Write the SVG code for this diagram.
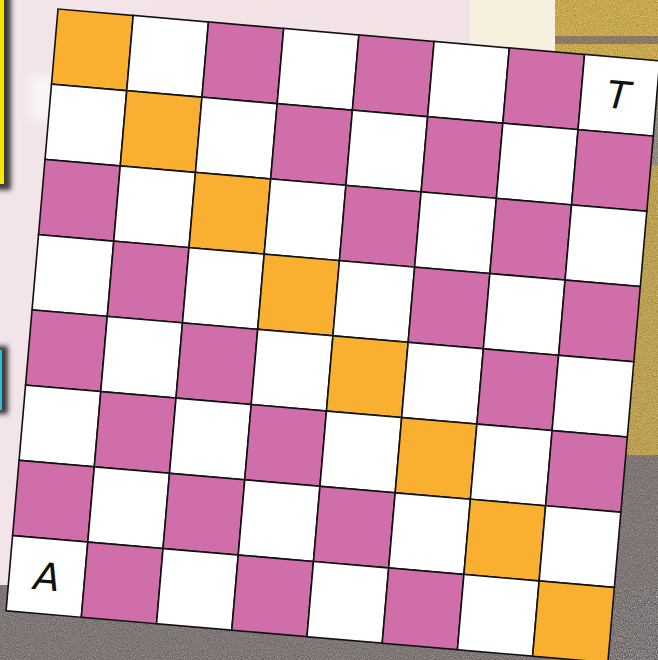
<svg xmlns="http://www.w3.org/2000/svg" width="658" height="660" viewBox="0 0 658 660">
<style>
.cell{stroke:#111;stroke-width:1.6;stroke-linejoin:miter}
.w{fill:#ffffff}
.p{fill:#D06EAA}
.o{fill:#F9AF30}
.lbl{font-family:"DejaVu Sans","Liberation Sans",sans-serif;font-style:italic;font-size:38px;fill:#111;text-anchor:middle}
.noise{filter:url(#grain);opacity:0.3}
</style>
<defs>
<filter id="grain" x="0" y="0" width="100%" height="100%" color-interpolation-filters="sRGB">
<feTurbulence type="fractalNoise" baseFrequency="0.85" numOctaves="2" seed="4" result="n"/>
<feColorMatrix in="n" type="matrix" values="0.6 0.6 0.6 0 -0.4  0.6 0.6 0.6 0 -0.4  0.6 0.6 0.6 0 -0.4  0 0 0 0 1" result="g"/>
<feComposite in="g" in2="SourceGraphic" operator="in"/>
</filter>
<filter id="blur" x="-50%" y="-10%" width="200%" height="120%"><feGaussianBlur stdDeviation="2.5"/></filter>
<filter id="soft" x="-50%" y="-50%" width="200%" height="200%"><feGaussianBlur stdDeviation="6"/></filter>
</defs>
<g id="background">
<rect x="0" y="0" width="658" height="660" fill="#F2E4E8"/>
<rect x="150" y="0" width="330" height="45" fill="#F3E3E6"/>
<rect x="470" y="0" width="90" height="60" fill="#F8F0DF"/>
<rect x="555" y="0" width="103" height="62" fill="#E6BA3C"/>
<rect x="555" y="36" width="103" height="8" fill="#94765A"/>
<rect x="600" y="60" width="58" height="110" fill="#948E7E"/>
<rect x="600" y="165" width="58" height="295" fill="#D6AE40"/>
<rect x="0" y="585" width="658" height="75" fill="#7E7471"/>
<rect x="590" y="455" width="68" height="205" fill="#7E7471"/>
<rect class="noise" x="555" y="0" width="103" height="62" fill="#fff"/>
<rect class="noise" x="600" y="60" width="58" height="600" fill="#fff"/>
<rect class="noise" x="0" y="585" width="658" height="75" fill="#fff"/>
<rect x="30" y="75" width="22" height="45" fill="#FAF6F6" filter="url(#soft)"/>
<rect x="-6" y="-6" width="17" height="196" fill="#3a3a3a" filter="url(#blur)"/>
<rect x="-6" y="-6" width="10" height="190" fill="#F6E900"/>
<rect x="-6" y="346" width="14" height="68" fill="#3a3a3a" filter="url(#blur)"/>
<rect x="-6" y="350" width="8" height="60" fill="#2DBCE0"/>
</g>
<g id="board" transform="translate(58,9) rotate(4.93)">
<g id="row0">
<rect class="cell o" x="0" y="0" width="75.5" height="75.5"/>
<rect class="cell w" x="75.5" y="0" width="75.5" height="75.5"/>
<rect class="cell p" x="151" y="0" width="75.5" height="75.5"/>
<rect class="cell w" x="226.5" y="0" width="75.5" height="75.5"/>
<rect class="cell p" x="302" y="0" width="75.5" height="75.5"/>
<rect class="cell w" x="377.5" y="0" width="75.5" height="75.5"/>
<rect class="cell p" x="453" y="0" width="75.5" height="75.5"/>
<rect class="cell w" x="528.5" y="0" width="75.5" height="75.5"/>
</g>
<g id="row1">
<rect class="cell w" x="0" y="75.5" width="75.5" height="75.5"/>
<rect class="cell o" x="75.5" y="75.5" width="75.5" height="75.5"/>
<rect class="cell w" x="151" y="75.5" width="75.5" height="75.5"/>
<rect class="cell p" x="226.5" y="75.5" width="75.5" height="75.5"/>
<rect class="cell w" x="302" y="75.5" width="75.5" height="75.5"/>
<rect class="cell p" x="377.5" y="75.5" width="75.5" height="75.5"/>
<rect class="cell w" x="453" y="75.5" width="75.5" height="75.5"/>
<rect class="cell p" x="528.5" y="75.5" width="75.5" height="75.5"/>
</g>
<g id="row2">
<rect class="cell p" x="0" y="151" width="75.5" height="75.5"/>
<rect class="cell w" x="75.5" y="151" width="75.5" height="75.5"/>
<rect class="cell o" x="151" y="151" width="75.5" height="75.5"/>
<rect class="cell w" x="226.5" y="151" width="75.5" height="75.5"/>
<rect class="cell p" x="302" y="151" width="75.5" height="75.5"/>
<rect class="cell w" x="377.5" y="151" width="75.5" height="75.5"/>
<rect class="cell p" x="453" y="151" width="75.5" height="75.5"/>
<rect class="cell w" x="528.5" y="151" width="75.5" height="75.5"/>
</g>
<g id="row3">
<rect class="cell w" x="0" y="226.5" width="75.5" height="75.5"/>
<rect class="cell p" x="75.5" y="226.5" width="75.5" height="75.5"/>
<rect class="cell w" x="151" y="226.5" width="75.5" height="75.5"/>
<rect class="cell o" x="226.5" y="226.5" width="75.5" height="75.5"/>
<rect class="cell w" x="302" y="226.5" width="75.5" height="75.5"/>
<rect class="cell p" x="377.5" y="226.5" width="75.5" height="75.5"/>
<rect class="cell w" x="453" y="226.5" width="75.5" height="75.5"/>
<rect class="cell p" x="528.5" y="226.5" width="75.5" height="75.5"/>
</g>
<g id="row4">
<rect class="cell p" x="0" y="302" width="75.5" height="75.5"/>
<rect class="cell w" x="75.5" y="302" width="75.5" height="75.5"/>
<rect class="cell p" x="151" y="302" width="75.5" height="75.5"/>
<rect class="cell w" x="226.5" y="302" width="75.5" height="75.5"/>
<rect class="cell o" x="302" y="302" width="75.5" height="75.5"/>
<rect class="cell w" x="377.5" y="302" width="75.5" height="75.5"/>
<rect class="cell p" x="453" y="302" width="75.5" height="75.5"/>
<rect class="cell w" x="528.5" y="302" width="75.5" height="75.5"/>
</g>
<g id="row5">
<rect class="cell w" x="0" y="377.5" width="75.5" height="75.5"/>
<rect class="cell p" x="75.5" y="377.5" width="75.5" height="75.5"/>
<rect class="cell w" x="151" y="377.5" width="75.5" height="75.5"/>
<rect class="cell p" x="226.5" y="377.5" width="75.5" height="75.5"/>
<rect class="cell w" x="302" y="377.5" width="75.5" height="75.5"/>
<rect class="cell o" x="377.5" y="377.5" width="75.5" height="75.5"/>
<rect class="cell w" x="453" y="377.5" width="75.5" height="75.5"/>
<rect class="cell p" x="528.5" y="377.5" width="75.5" height="75.5"/>
</g>
<g id="row6">
<rect class="cell p" x="0" y="453" width="75.5" height="75.5"/>
<rect class="cell w" x="75.5" y="453" width="75.5" height="75.5"/>
<rect class="cell p" x="151" y="453" width="75.5" height="75.5"/>
<rect class="cell w" x="226.5" y="453" width="75.5" height="75.5"/>
<rect class="cell p" x="302" y="453" width="75.5" height="75.5"/>
<rect class="cell w" x="377.5" y="453" width="75.5" height="75.5"/>
<rect class="cell o" x="453" y="453" width="75.5" height="75.5"/>
<rect class="cell w" x="528.5" y="453" width="75.5" height="75.5"/>
</g>
<g id="row7">
<rect class="cell w" x="0" y="528.5" width="75.5" height="75.5"/>
<rect class="cell p" x="75.5" y="528.5" width="75.5" height="75.5"/>
<rect class="cell w" x="151" y="528.5" width="75.5" height="75.5"/>
<rect class="cell p" x="226.5" y="528.5" width="75.5" height="75.5"/>
<rect class="cell w" x="302" y="528.5" width="75.5" height="75.5"/>
<rect class="cell p" x="377.5" y="528.5" width="75.5" height="75.5"/>
<rect class="cell w" x="453" y="528.5" width="75.5" height="75.5"/>
<rect class="cell o" x="528.5" y="528.5" width="75.5" height="75.5"/>
</g>
<g id="labels">
<text class="lbl" x="566" y="51">T</text>
<text class="lbl" x="38" y="580">A</text>
</g>
</g>
</svg>
